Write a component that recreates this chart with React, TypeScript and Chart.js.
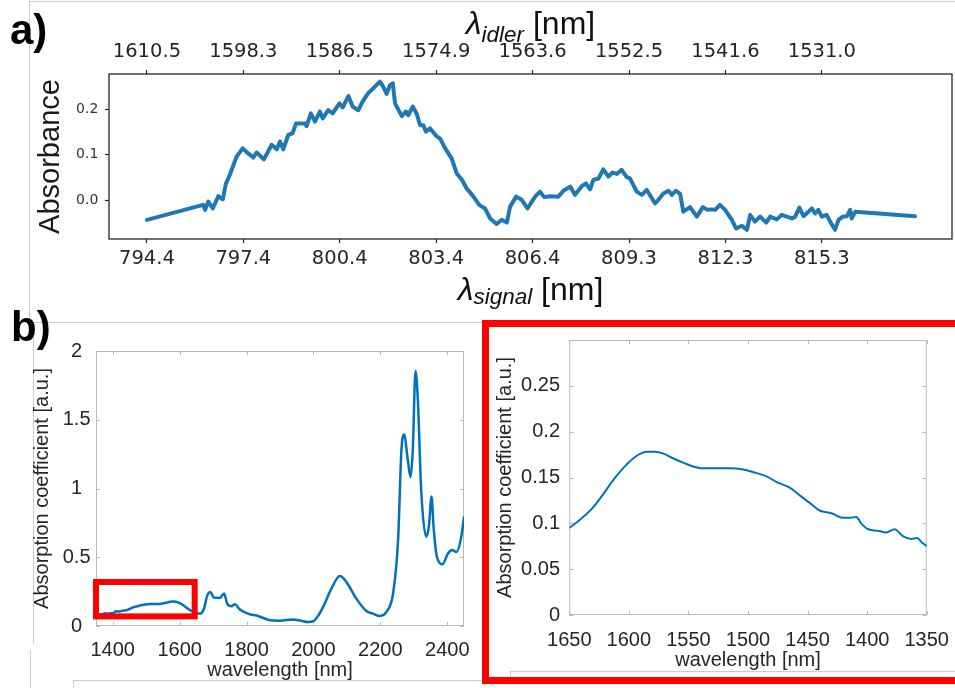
import React, { useEffect, useRef } from "react";
import { Chart, registerables } from "chart.js";

Chart.register(...registerables);

const SANS = '"Liberation Sans", Arial, sans-serif';
const DEJAVU = '"DejaVu Sans", sans-serif';

// ---------- panel a: absorbance vs signal / idler wavelength ----------
const signalNm = [
  794.40, 796.15, 796.21, 796.31, 796.45, 796.62, 796.76, 796.86, 796.98, 797.19,
  797.38, 797.55, 797.71, 797.81, 798.04, 798.28, 798.44, 798.54, 798.64, 798.80,
  798.93, 799.04, 799.32, 799.37, 799.50, 799.63, 799.78, 799.87, 800.04, 800.18,
  800.39, 800.49, 800.67, 800.80, 800.98, 801.11, 801.29, 801.44, 801.65, 801.75,
  801.86, 801.96, 802.05, 802.12, 802.33, 802.46, 802.53, 802.67, 802.79, 802.90,
  803.00, 803.08, 803.21, 803.42, 803.52, 803.68, 803.88, 804.04, 804.20, 804.35,
  804.56, 804.74, 804.92, 805.08, 805.28, 805.44, 805.60, 805.70, 805.89, 806.06,
  806.24, 806.48, 806.63, 806.76, 806.94, 807.20, 807.36, 807.57, 807.72, 807.93,
  808.06, 808.19, 808.29, 808.45, 808.60, 808.76, 808.89, 809.02, 809.17, 809.33,
  809.43, 809.64, 809.80, 809.95, 810.21, 810.30, 810.47, 810.63, 810.73, 810.86,
  810.99, 811.09, 811.30, 811.51, 811.70, 811.84, 811.98, 812.08, 812.23, 812.39,
  812.60, 812.73, 812.91, 813.07, 813.17, 813.32, 813.48, 813.67, 813.79, 814.00,
  814.15, 814.31, 814.47, 814.57, 814.70, 814.83, 815.09, 815.19, 815.29, 815.40,
  815.55, 815.66, 815.81, 815.92, 816.05, 816.18, 816.28, 816.33, 816.44, 818.30,
];
const absorbance = [
  -0.043, -0.010, -0.021, -0.003, -0.018, 0.009, 0.002, 0.037, 0.056, 0.096,
  0.114, 0.103, 0.094, 0.105, 0.090, 0.122, 0.112, 0.129, 0.112, 0.144,
  0.147, 0.169, 0.169, 0.163, 0.191, 0.173, 0.195, 0.180, 0.198, 0.191,
  0.213, 0.204, 0.229, 0.206, 0.198, 0.217, 0.236, 0.246, 0.261, 0.250,
  0.234, 0.253, 0.257, 0.213, 0.185, 0.195, 0.187, 0.206, 0.191, 0.165,
  0.165, 0.151, 0.158, 0.140, 0.136, 0.114, 0.092, 0.059, 0.045, 0.026,
  0.008, -0.010, -0.018, -0.040, -0.052, -0.043, -0.049, -0.014, 0.008, 0.001,
  -0.018, 0.008, 0.019, 0.007, 0.009, 0.008, 0.021, 0.030, 0.012, 0.031,
  0.037, 0.024, 0.045, 0.048, 0.068, 0.052, 0.061, 0.058, 0.067, 0.051,
  0.048, 0.019, 0.012, 0.023, -0.007, 0.000, 0.015, 0.021, 0.012, 0.021,
  0.014, -0.025, -0.015, -0.036, -0.015, -0.021, -0.020, -0.021, -0.010, -0.021,
  -0.043, -0.062, -0.056, -0.065, -0.032, -0.047, -0.036, -0.049, -0.036, -0.042,
  -0.032, -0.036, -0.040, -0.036, -0.016, -0.035, -0.018, -0.029, -0.021, -0.036,
  -0.032, -0.047, -0.065, -0.043, -0.036, -0.035, -0.021, -0.040, -0.025, -0.035,
];
const signalTickValues = [794.4, 797.4, 800.4, 803.4, 806.4, 809.4, 812.4, 815.4];
const signalTickLabels = ["794.4", "797.4", "800.4", "803.4", "806.4", "809.3", "812.3", "815.3"];
const idlerTickLabels = ["1610.5", "1598.3", "1586.5", "1574.9", "1563.6", "1552.5", "1541.6", "1531.0"];
const absTickValues = [0, 0.1, 0.2];
const absTickLabels = ["0.0", "0.1", "0.2"];

// ---------- panel b (right): zoomed absorption 1350-1650 nm ----------
const zoomWavelength = [
  1350, 1354, 1358, 1363, 1370, 1377, 1384, 1391, 1399, 1405,
  1409, 1414, 1420, 1430, 1440, 1448, 1456, 1465, 1476, 1484,
  1496, 1505, 1515, 1526, 1538, 1546, 1554, 1563, 1571, 1578,
  1585, 1593, 1602, 1612, 1622, 1631, 1641, 1650,
];
const zoomAbsorption = [
  0.075, 0.079, 0.084, 0.083, 0.086, 0.0935, 0.090, 0.092, 0.0935, 0.100,
  0.107, 0.106, 0.106, 0.111, 0.114, 0.122, 0.130, 0.139, 0.145, 0.151,
  0.156, 0.159, 0.160, 0.160, 0.160, 0.162, 0.166, 0.171, 0.176, 0.178,
  0.178, 0.174, 0.164, 0.149, 0.131, 0.116, 0.104, 0.095,
];
const zoomXTicks = [1350, 1400, 1450, 1500, 1550, 1600, 1650];
const zoomYTicks = [0, 0.05, 0.1, 0.15, 0.2, 0.25];
const zoomYTickLabels = ["0", "0.05", "0.1", "0.15", "0.2", "0.25"];

// ---------- panel b (left): full spectrum ----------
const nirWavelength = [
  1661, 1673, 1682, 1692, 1702, 1720, 1733, 1742, 1755, 1765,
  1780, 1810, 1830, 1850, 1870, 1899, 1939, 1960, 1984, 2000,
  2014, 2029, 2054, 2079, 2098, 2128, 2158, 2178, 2198, 2218,
  2238, 2253, 2263, 2271, 2282, 2290, 2297, 2305, 2312, 2322,
  2337, 2345, 2353, 2359, 2369, 2386, 2402, 2415, 2427, 2442,
  2450,
];
const nirAbsorption = [
  0.090, 0.127, 0.217, 0.248, 0.207, 0.204, 0.236, 0.163, 0.144, 0.158,
  0.120, 0.085, 0.076, 0.058, 0.042, 0.039, 0.047, 0.040, 0.029, 0.035,
  0.075, 0.139, 0.273, 0.363, 0.321, 0.200, 0.109, 0.090, 0.073, 0.102,
  0.236, 0.626, 1.282, 1.392, 1.209, 1.083, 1.282, 1.854, 1.647, 0.990,
  0.650, 0.723, 0.942, 0.723, 0.504, 0.450, 0.528, 0.553, 0.538, 0.650,
  0.796,
];
const fullWavelength = [...zoomWavelength, ...nirWavelength];
const fullAbsorption = [...zoomAbsorption, ...nirAbsorption];
const fullXTicks = [1400, 1600, 1800, 2000, 2200, 2400];
const fullYTicks = [0, 0.5, 1, 1.5, 2];
const fullYTickLabels = ["0", "0.5", "1", "1.5", "2"];
const zoomBoxNm = [1350, 1645];
const zoomBoxAbs = [0.07, 0.32];

// ---------- helpers ----------
const fixedBox = (w?: number, h?: number) => (scale: any) => {
  if (w !== undefined) scale.width = w;
  if (h !== undefined) scale.height = h;
  scale.paddingLeft = 0;
  scale.paddingRight = 0;
  scale.paddingTop = 0;
  scale.paddingBottom = 0;
};
const fixedTicks = (values: number[]) => (scale: any) => {
  scale.ticks = values.map((value) => ({ value }));
};
const toPoints = (xs: number[], ys: number[]) => xs.map((x, i) => ({ x, y: ys[i] }));

function drawLambda(ctx: CanvasRenderingContext2D, cx: number, baseline: number, sub: string, drop: number) {
  const parts = [
    { text: "\u03bb", font: `italic 32px ${SANS}`, dy: 0 },
    { text: sub, font: `italic 22.5px ${SANS}`, dy: drop },
    { text: " [nm]", font: `32px ${SANS}`, dy: 0 },
  ];
  ctx.save();
  ctx.fillStyle = "#111";
  ctx.textBaseline = "alphabetic";
  ctx.textAlign = "left";
  let total = 0;
  const widths = parts.map((p) => {
    ctx.font = p.font;
    const w = ctx.measureText(p.text).width;
    total += w;
    return w;
  });
  let x = cx - total / 2;
  parts.forEach((p, i) => {
    ctx.font = p.font;
    ctx.fillText(p.text, x, baseline + p.dy);
    x += widths[i];
  });
  ctx.restore();
}

const frameA = {
  id: "frameA",
  afterDatasetsDraw(chart: any) {
    const { ctx, chartArea: a } = chart;
    ctx.save();
    ctx.strokeStyle = "#262626";
    ctx.lineWidth = 1.3;
    ctx.strokeRect(a.left, a.top, a.right - a.left, a.bottom - a.top);
    ctx.restore();
  },
};

const lambdaLabels = {
  id: "lambdaLabels",
  afterDraw(chart: any) {
    const { ctx, chartArea: a } = chart;
    const cx = (a.left + a.right) / 2;
    drawLambda(ctx, cx, 33.6, "idler", 8);
    drawLambda(ctx, cx, 299.5, "signal", 4.5);
  },
};

const matlabBox = {
  id: "matlabBox",
  beforeDatasetsDraw(chart: any) {
    const { ctx, chartArea: a, scales } = chart;
    const len = 4;
    ctx.save();
    ctx.strokeStyle = "#b8b8b8";
    ctx.lineWidth = 1;
    ctx.strokeRect(a.left + 0.5, a.top + 0.5, a.right - a.left - 1, a.bottom - a.top - 1);
    ctx.beginPath();
    scales.x.ticks.forEach((t: any) => {
      const px = Math.round(scales.x.getPixelForValue(t.value)) + 0.5;
      ctx.moveTo(px, a.bottom);
      ctx.lineTo(px, a.bottom - len);
      ctx.moveTo(px, a.top);
      ctx.lineTo(px, a.top + len);
    });
    scales.y.ticks.forEach((t: any) => {
      const py = Math.round(scales.y.getPixelForValue(t.value)) + 0.5;
      ctx.moveTo(a.left, py);
      ctx.lineTo(a.left + len, py);
      ctx.moveTo(a.right, py);
      ctx.lineTo(a.right - len, py);
    });
    ctx.stroke();
    ctx.restore();
  },
};

const zoomRect = {
  id: "zoomRect",
  afterDatasetsDraw(chart: any) {
    const { ctx, scales } = chart;
    const x1 = scales.x.getPixelForValue(zoomBoxNm[0]);
    const x2 = scales.x.getPixelForValue(zoomBoxNm[1]);
    const y1 = scales.y.getPixelForValue(zoomBoxAbs[1]);
    const y2 = scales.y.getPixelForValue(zoomBoxAbs[0]);
    ctx.save();
    ctx.strokeStyle = "#ff0000";
    ctx.lineWidth = 6;
    ctx.lineJoin = "miter";
    ctx.strokeRect(x1, y1, x2 - x1, y2 - y1);
    ctx.restore();
  },
};

const baseOptions = {
  animation: false as const,
  responsive: false,
  devicePixelRatio: 1,
  plugins: { legend: { display: false }, tooltip: { enabled: false } },
};

function panelAConfig(): any {
  const axisGrid = { drawOnChartArea: false, drawTicks: true, tickLength: 4, tickColor: "#262626", tickWidth: 1.2 };
  return {
    type: "line",
    data: {
      datasets: [
        {
          data: toPoints(signalNm, absorbance),
          borderColor: "#1f77b4",
          borderWidth: 4,
          pointRadius: 0,
          tension: 0,
          fill: false,
          borderJoinStyle: "round",
          borderCapStyle: "round",
        },
      ],
    },
    options: {
      ...baseOptions,
      layout: { padding: { left: 0, right: 3, top: 0, bottom: 0 } },
      scales: {
        x: {
          type: "linear",
          position: "bottom",
          bounds: "data",
          min: 793.22,
          max: 819.45,
          afterBuildTicks: fixedTicks(signalTickValues),
          afterFit: fixedBox(undefined, 79),
          grid: axisGrid,
          border: { display: false },
          ticks: {
            autoSkip: false,
            maxRotation: 0,
            padding: 4.5,
            color: "#262626",
            font: { family: DEJAVU, size: 19.5 },
            callback: (_v: any, i: number) => signalTickLabels[i],
          },
        },
        x2: {
          type: "linear",
          position: "top",
          bounds: "data",
          min: 793.22,
          max: 819.45,
          afterBuildTicks: fixedTicks(signalTickValues),
          afterFit: fixedBox(undefined, 74),
          grid: axisGrid,
          border: { display: false },
          ticks: {
            autoSkip: false,
            maxRotation: 0,
            padding: 6.6,
            color: "#262626",
            font: { family: DEJAVU, size: 19.5 },
            callback: (_v: any, i: number) => idlerTickLabels[i],
          },
        },
        y: {
          type: "linear",
          position: "left",
          bounds: "data",
          min: -0.0851,
          max: 0.2776,
          afterBuildTicks: fixedTicks(absTickValues),
          afterFit: fixedBox(109),
          grid: axisGrid,
          border: { display: false },
          ticks: {
            padding: 6.7,
            color: "#333333",
            font: { family: DEJAVU, size: 14 },
            callback: (_v: any, i: number) => absTickLabels[i],
          },
          title: {
            display: true,
            text: "Absorbance",
            color: "#1a1a1a",
            font: { family: SANS, size: 29 },
            padding: { top: 33.6, bottom: 0 },
          },
        },
      },
    },
    plugins: [frameA, lambdaLabels],
  };
}

function matlabAxes(opts: {
  xMin: number; xMax: number; xTicks: number[]; reverse?: boolean; xPad: number; xHeight: number; xTitlePad: number;
  yMin: number; yMax: number; yTicks: number[]; yLabels: string[]; yWidth: number; yPad: number; yAlign: string; yTitlePad: number;
}) {
  const tickFont = { family: SANS, size: 20 };
  return {
    x: {
      type: "linear",
      position: "bottom",
      bounds: "data",
      reverse: !!opts.reverse,
      min: opts.xMin,
      max: opts.xMax,
      afterBuildTicks: fixedTicks(opts.xTicks),
      afterFit: fixedBox(undefined, opts.xHeight),
      grid: { display: false, drawTicks: false },
      border: { display: false },
      ticks: {
        autoSkip: false,
        maxRotation: 0,
        padding: opts.xPad,
        color: "#262626",
        font: tickFont,
        callback: (v: any) => String(v),
      },
      title: {
        display: true,
        text: "wavelength [nm]",
        color: "#262626",
        font: { family: SANS, size: 20 },
        padding: { top: 0, bottom: opts.xTitlePad },
      },
    },
    y: {
      type: "linear",
      position: "left",
      bounds: "data",
      min: opts.yMin,
      max: opts.yMax,
      afterBuildTicks: fixedTicks(opts.yTicks),
      afterFit: fixedBox(opts.yWidth),
      grid: { display: false, drawTicks: false },
      border: { display: false },
      ticks: {
        padding: opts.yPad,
        crossAlign: opts.yAlign,
        color: "#262626",
        font: tickFont,
        callback: (_v: any, i: number) => opts.yLabels[i],
      },
      title: {
        display: true,
        text: "Absorption coefficient [a.u.]",
        color: "#262626",
        font: { family: SANS, size: 20 },
        padding: { top: opts.yTitlePad, bottom: 0 },
      },
    },
  };
}

function panelBLeftConfig(): any {
  return {
    type: "line",
    data: {
      datasets: [
        {
          data: toPoints(fullWavelength, fullAbsorption),
          borderColor: "#0072bd",
          borderWidth: 2.5,
          pointRadius: 0,
          cubicInterpolationMode: "monotone",
          fill: false,
        },
      ],
    },
    options: {
      ...baseOptions,
      layout: { padding: { left: 0, right: 16, top: 21, bottom: 0 } },
      scales: matlabAxes({
        xMin: 1350, xMax: 2450, xTicks: fullXTicks, xPad: 12.3, xHeight: 62, xTitlePad: 6,
        yMin: 0, yMax: 2, yTicks: fullYTicks, yLabels: fullYTickLabels, yWidth: 96, yPad: 5.5, yAlign: "center", yTitlePad: 30,
      }),
    },
    plugins: [matlabBox, zoomRect],
  };
}

function panelBRightConfig(): any {
  return {
    type: "line",
    data: {
      datasets: [
        {
          data: toPoints(zoomWavelength, zoomAbsorption),
          borderColor: "#0072bd",
          borderWidth: 2,
          pointRadius: 0,
          cubicInterpolationMode: "monotone",
          fill: false,
        },
      ],
    },
    options: {
      ...baseOptions,
      layout: { padding: { left: 0, right: 28.3, top: 12, bottom: 0 } },
      scales: matlabAxes({
        xMin: 1350, xMax: 1650, xTicks: zoomXTicks, reverse: true, xPad: 13.3, xHeight: 61, xTitlePad: 4,
        yMin: 0, yMax: 0.3, yTicks: zoomYTicks, yLabels: zoomYTickLabels, yWidth: 79.3, yPad: 9.3, yAlign: "near", yTitlePad: 3,
      }),
    },
    plugins: [matlabBox],
  };
}

function ChartCanvas(props: { make: () => any; left: number; top: number; width: number; height: number }) {
  const ref = useRef<HTMLCanvasElement | null>(null);
  useEffect(() => {
    if (!ref.current) return;
    const chart = new Chart(ref.current, props.make());
    return () => chart.destroy();
  }, []);
  return (
    <canvas
      ref={ref}
      width={props.width}
      height={props.height}
      style={{ position: "absolute", left: props.left, top: props.top, width: props.width, height: props.height }}
    />
  );
}

const line = (left: number, top: number, width: number, height: number) => (
  <div style={{ position: "absolute", left, top, width, height, background: "#cccccc" }} />
);

export default function App() {
  return (
    <div
      style={{
        position: "absolute",
        left: 0,
        top: 0,
        width: 955,
        height: 688,
        overflow: "hidden",
        background: "#ffffff",
        fontFamily: SANS,
      }}
    >
      {line(29, 1, 926, 1)}
      {line(29, 0, 1, 320)}
      {line(33, 322, 450, 1)}
      {line(33, 322, 1, 321)}
      {line(30, 650, 1, 38)}
      {line(73, 680, 409, 1)}
      {line(73, 680, 1, 8)}
      {line(510, 671, 445, 1)}
      {line(510, 671, 1, 7)}
      <ChartCanvas make={panelAConfig} left={0} top={0} width={955} height={318} />
      <ChartCanvas make={panelBLeftConfig} left={0} top={330} width={480} height={358} />
      <ChartCanvas make={panelBRightConfig} left={490} top={328} width={465} height={348} />
      <div
        style={{
          position: "absolute",
          left: 482,
          top: 320,
          width: 500,
          height: 364,
          border: "7px solid #ff0000",
          boxSizing: "border-box",
        }}
      />
      <div style={{ position: "absolute", left: 10, top: 9, fontWeight: "bold", fontSize: 42, lineHeight: "42px", color: "#000" }}>
        a)
      </div>
      <div style={{ position: "absolute", left: 11, top: 306, fontWeight: "bold", fontSize: 42, lineHeight: "42px", color: "#000" }}>
        b)
      </div>
    </div>
  );
}
